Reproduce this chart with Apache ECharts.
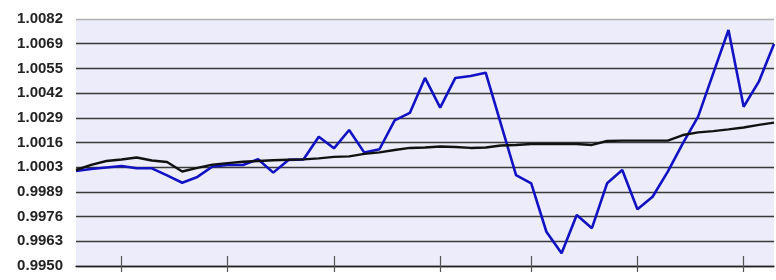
<!DOCTYPE html>
<html>
<head>
<meta charset="utf-8">
<script src="https://cdn.jsdelivr.net/npm/echarts@6/dist/echarts.min.js"></script>
<style>
html,body{margin:0;padding:0;background:#fff;}
#c{width:776px;height:280px;}
</style>
</head>
<body>
<div id="c"></div>
<script>
// Y tick labels (bottom to top)
const yTickLabels = ['0.9950','0.9963','0.9976','0.9989','1.0003','1.0016','1.0029','1.0042','1.0055','1.0069','1.0082'];
const yMin = 0.9950;
const yStep = 0.00132;

// Blue series values
const seriesA = [
  1.00008, 1.00018, 1.00026, 1.00034, 1.00022, 1.00022, 0.99984, 0.99945, 0.99976, 1.00032,
  1.00040, 1.00040, 1.00070, 0.99999, 1.00067, 1.00070, 1.00191, 1.00129, 1.00227, 1.00106,
  1.00124, 1.00278, 1.00318, 1.00505, 1.00346, 1.00505, 1.00515, 1.00533, 1.00259, 0.99986,
  0.99942, 0.99683, 0.99568, 0.99773, 0.99702, 0.99942, 1.00013, 0.99803, 0.99870, 1.00004,
  1.00157, 1.00298, 1.00531, 1.00761, 1.00351, 1.00485, 1.00686
];
// Black series values
const seriesB = [
  1.00013, 1.00040, 1.00061, 1.00069, 1.00080, 1.00064, 1.00056, 1.00005, 1.00024, 1.00042,
  1.00050, 1.00057, 1.00061, 1.00065, 1.00068, 1.00070, 1.00075, 1.00083, 1.00086, 1.00099,
  1.00107, 1.00120, 1.00131, 1.00133, 1.00139, 1.00136, 1.00131, 1.00133, 1.00144, 1.00147,
  1.00152, 1.00152, 1.00152, 1.00152, 1.00147, 1.00168, 1.00170, 1.00170, 1.00170, 1.00170,
  1.00200, 1.00214, 1.00221, 1.00230, 1.00240, 1.00254, 1.00266
];
// Categories (one per point)
const categories = seriesA.map((_, i) => String(i + 1));
// Category indices carrying a tick mark
const tickIndices = [3, 10, 17, 24, 30, 37, 44];

const toAxis = v => (v - yMin) / yStep;

const splitColors = yTickLabels.map((_, i) => i === yTickLabels.length - 1 ? '#b0b0b0' : '#3a3a3a');

const chart = echarts.init(document.getElementById('c'), null, {renderer: 'canvas'});
const xBase = {
  type: 'category',
  data: categories,
  boundaryGap: false,
  axisLabel: {show: false},
  splitLine: {show: false}
};
chart.setOption({
  animation: false,
  grid: {
    left: 76, right: 2, top: 19, bottom: 14,
    show: true, backgroundColor: '#ececfa', borderWidth: 0
  },
  xAxis: [
    Object.assign({}, xBase, {
      axisLine: {show: true, lineStyle: {color: '#222', width: 1.3}},
      axisTick: {show: true, interval: (i) => tickIndices.includes(i), length: 6, inside: false,
                 lineStyle: {color: '#555', width: 1.2}}
    }),
    Object.assign({}, xBase, {
      position: 'bottom',
      axisLine: {show: false},
      axisTick: {show: true, interval: (i) => tickIndices.includes(i), length: 10, inside: true,
                 lineStyle: {color: '#555', width: 1.2}}
    })
  ],
  yAxis: {
    type: 'value',
    min: 0,
    max: yTickLabels.length - 1,
    interval: 1,
    axisLine: {show: false},
    axisTick: {show: false},
    axisLabel: {
      margin: 13,
      color: '#222',
      fontFamily: 'Liberation Sans',
      fontWeight: 'bold',
      fontSize: 15,
      padding: [0, 0, 4, 0],
      formatter: (v, idx) => yTickLabels[Math.round(v)]
    },
    splitLine: {show: true, lineStyle: {color: splitColors, width: 1.3}}
  },
  series: [
    {
      type: 'line',
      data: seriesA.map(toAxis),
      symbol: 'none',
      lineStyle: {color: '#1212c4', width: 2.6},
      z: 3
    },
    {
      type: 'line',
      data: seriesB.map(toAxis),
      symbol: 'none',
      lineStyle: {color: '#111', width: 2.4},
      z: 4
    }
  ]
});
</script>
</body>
</html>
